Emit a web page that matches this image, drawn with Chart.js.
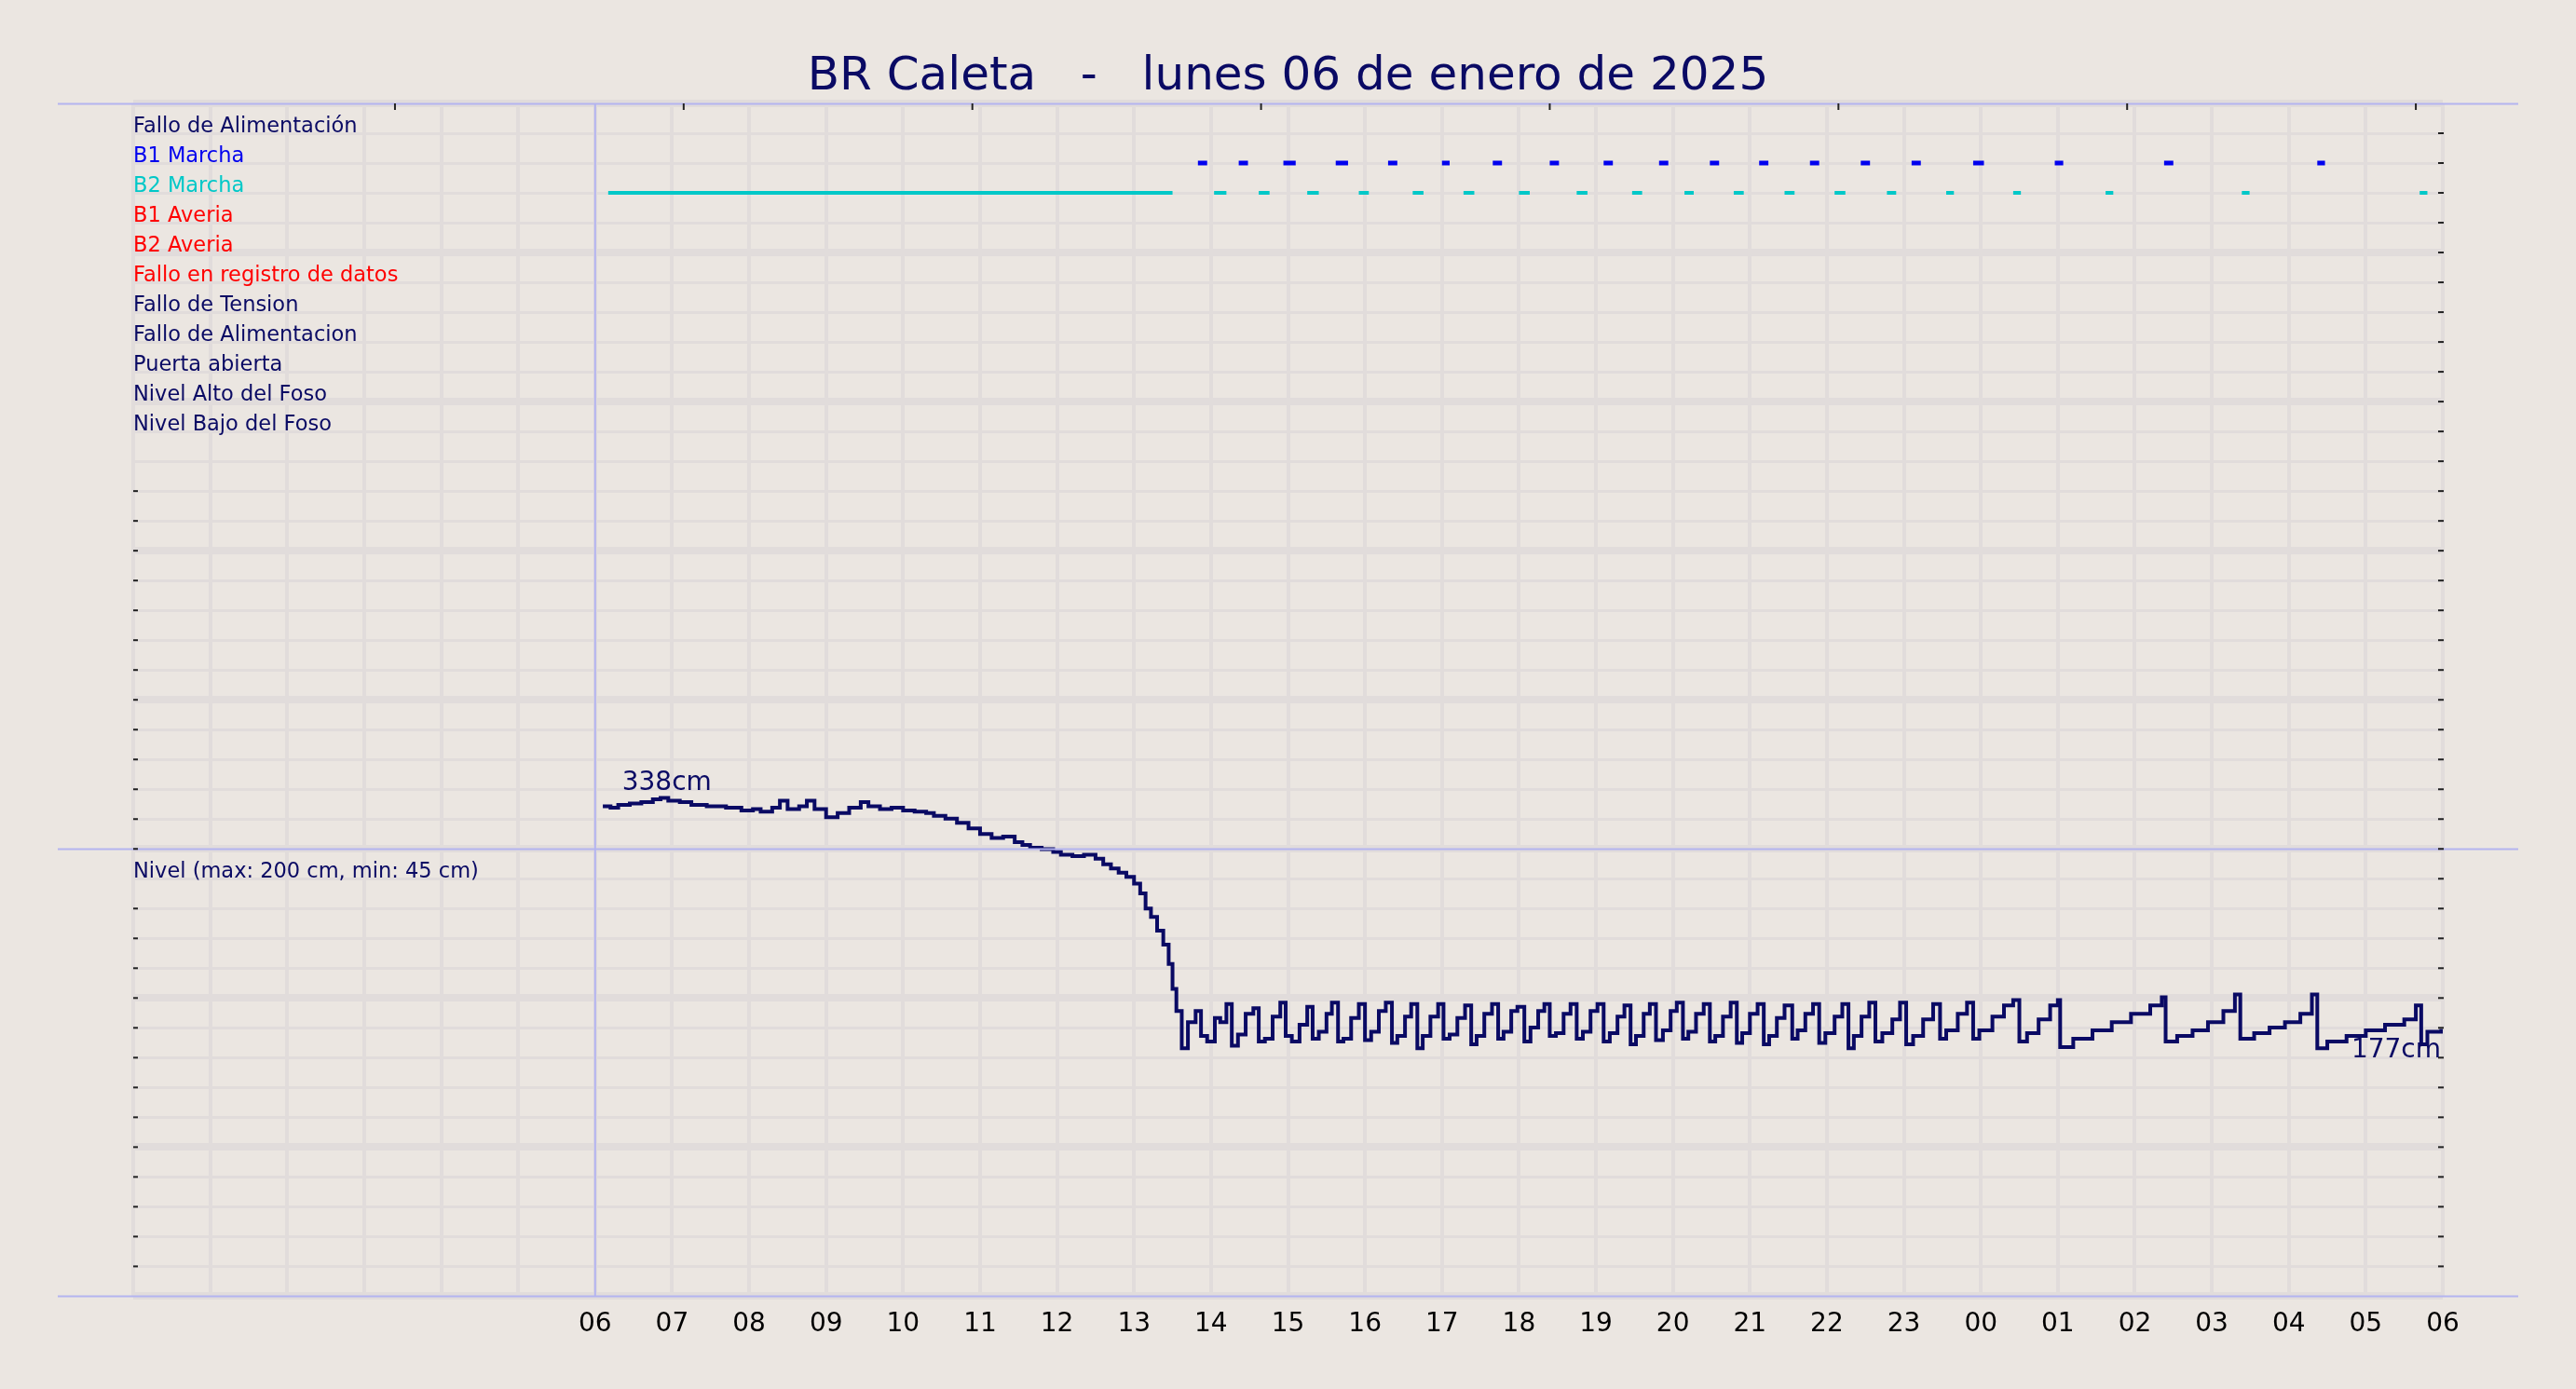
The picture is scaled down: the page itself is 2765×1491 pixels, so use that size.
<!DOCTYPE html>
<html><head><meta charset="utf-8">
<script src="https://cdn.jsdelivr.net/npm/chart.js@4/dist/chart.umd.min.js"></script>
<style>html,body{margin:0;padding:0;background:#ebe6e1;}#wrap{width:2765px;height:1491px;}</style>
</head><body><div id="wrap"><canvas id="c" width="2765" height="1491"></canvas></div>
<script>
const titleText = "BR Caleta   -   lunes 06 de enero de 2025";
const rowLabels = ["Fallo de Alimentación","B1 Marcha","B2 Marcha","B1 Averia","B2 Averia","Fallo en registro de datos","Fallo de Tension","Fallo de Alimentacion","Puerta abierta","Nivel Alto del Foso","Nivel Bajo del Foso"];
const rowColors = ["#0a0a64","#0000ee","#00c8c8","#ff0000","#ff0000","#ff0000","#0a0a64","#0a0a64","#0a0a64","#0a0a64","#0a0a64"];
const levelLabel = "Nivel (max: 200 cm, min: 45 cm)";
const hourLabels = ["06","07","08","09","10","11","12","13","14","15","16","17","18","19","20","21","22","23","00","01","02","03","04","05","06"];
// hours since 06:00
const b1Runs = [[7.83,7.95],[8.36,8.48],[8.94,9.1],[9.62,9.78],[10.3,10.42],[11.0,11.1],[11.66,11.78],[12.4,12.52],[13.1,13.22],[13.82,13.94],[14.48,14.6],[15.12,15.24],[15.78,15.9],[16.44,16.56],[17.1,17.22],[17.9,18.04],[18.96,19.07],[20.38,20.5],[22.37,22.47]];
const b2Runs = [[0.17,7.5],[8.04,8.2],[8.62,8.76],[9.25,9.4],[9.92,10.05],[10.62,10.76],[11.28,11.42],[12.0,12.14],[12.75,12.89],[13.47,13.6],[14.15,14.27],[14.79,14.92],[15.45,15.58],[16.1,16.24],[16.78,16.9],[17.55,17.65],[18.42,18.52],[19.62,19.72],[21.39,21.49],[23.7,23.8]];
const levelTimes = [0.1,0.2,0.3,0.45,0.6,0.75,0.85,0.95,1.1,1.25,1.45,1.7,1.9,2.05,2.15,2.3,2.4,2.5,2.65,2.75,2.85,3.0,3.15,3.3,3.45,3.55,3.7,3.85,4.0,4.15,4.3,4.4,4.55,4.7,4.85,5.0,5.15,5.3,5.45,5.55,5.65,5.8,5.95,6.05,6.2,6.35,6.5,6.6,6.7,6.8,6.9,7.0,7.08,7.15,7.22,7.3,7.38,7.45,7.5,7.55,
7.62,7.7,7.8,7.87,7.95,8.05,8.12,8.2,8.27,8.35,8.45,8.55,8.62,8.7,8.8,8.9,8.97,9.05,9.15,9.25,9.32,9.4,9.5,9.57,9.65,9.72,9.82,9.92,10.0,10.08,10.18,10.27,10.35,10.42,10.52,10.6,10.68,10.75,10.85,10.95,11.02,11.1,11.2,11.3,11.38,11.45,11.55,11.65,11.73,11.8,11.9,11.98,12.07,12.15,12.25,12.33,12.4,12.48,12.58,12.67,12.75,12.83,12.93,13.02,13.1,13.18,13.28,13.37,13.45,13.52,13.62,13.7,13.78,13.87,13.97,14.05,14.13,14.2,14.3,14.4,14.48,14.55,14.65,14.75,14.83,14.9,15.0,15.1,15.18,15.25,15.35,15.45,15.55,15.62,15.72,15.82,15.9,15.98,16.1,16.2,16.28,16.35,16.45,16.55,16.63,16.72,16.85,16.95,17.03,17.12,17.25,17.38,17.47,17.55,17.7,17.82,17.9,17.98,18.15,18.3,18.42,18.5,18.6,18.75,18.9,19.0,19.03,19.2,19.45,19.7,19.95,20.2,20.35,20.4,20.55,20.75,20.95,21.15,21.3,21.37,21.55,21.75,21.95,22.15,22.3,22.37,22.5,22.75,23.0,23.25,23.5,23.65,23.72,23.8,23.98];
const levelValues = [338,337,339,340,341,343,344,342,341,339,338,337,335,336,334,337,342,336,338,342,336,330,333,337,341,338,336,337,335,334,333,331,329,326,322,318,315,316,312,310,308,307,305,303,302,303,300,296,293,290,287,282,275,264,258,248,238,224,206,190,
163,182,190,172,168,185,182,195,165,173,188,192,168,170,186,196,172,168,180,193,170,175,188,196,168,170,185,195,169,175,190,196,167,172,186,195,163,172,186,195,170,173,185,194,166,172,188,195,170,175,190,193,168,178,190,195,172,174,188,195,170,175,190,195,168,174,186,194,166,172,188,195,169,176,190,196,170,175,188,195,168,172,186,196,167,174,188,195,166,172,185,194,170,176,188,195,167,174,186,195,163,172,186,196,168,174,184,196,166,172,184,195,170,176,188,196,170,176,186,194,198,168,174,184,194,198,164,170,176,182,188,194,200,168,172,176,182,190,202,170,174,178,182,188,202,163,168,172,176,180,184,194,166,175,177];
const NAVY="#0a0a64", BG="#ebe6e1", GRID="#e1dcdb", FRAME="#b4b4f0";

function runs(r){const d=[];r.forEach(([a,b])=>{d.push({x:a,y:0},{x:b,y:0},{x:b+0.001,y:null});});return d;}
const rowV = i => 39 - i;
const b1Data = runs(b1Runs).map(p=>({x:p.x,y:p.y===null?null:rowV(1)}));
const b2Data = runs(b2Runs).map(p=>({x:p.x,y:p.y===null?null:rowV(2)}));
const levelData = levelTimes.map((t,i)=>({x:t,y:levelValues[i]}));

const deco = {
  id:'deco',
  beforeDraw(ch){const c=ch.ctx;c.save();c.fillStyle=BG;c.fillRect(0,0,ch.width,ch.height);c.restore();},
  afterDraw(ch){
    const c=ch.ctx,x=ch.scales.x,y=ch.scales.y,yl=ch.scales.yL,a=ch.chartArea;
    c.save();
    c.strokeStyle=FRAME;c.lineWidth=2;
    [40,15,0].forEach(v=>{const py=Math.round(y.getPixelForValue(v))+0.5;c.beginPath();c.moveTo(62,py);c.lineTo(2703,py);c.stroke();});
    const vx=x.getPixelForValue(0);c.beginPath();c.moveTo(vx,a.top);c.lineTo(vx,a.bottom);c.stroke();
    c.strokeStyle="#222";c.lineWidth=2;
    for(let v=1;v<40;v++){const py=y.getPixelForValue(v);c.beginPath();c.moveTo(a.right-5,py);c.lineTo(a.right+1,py);c.stroke();
      if(v<=27&&v!==14){c.beginPath();c.moveTo(a.left,py);c.lineTo(a.left+5,py);c.stroke();}}
    for(let h=-2.6;h<24;h+=3.75){const px=x.getPixelForValue(h);c.beginPath();c.moveTo(px,a.top);c.lineTo(px,a.top+7);c.stroke();}
    c.fillStyle=NAVY;c.font='50px "DejaVu Sans"';c.textAlign='center';c.textBaseline='middle';
    c.fillText(titleText,ch.width/2,83);
    c.font='22.5px "DejaVu Sans"';c.textAlign='left';c.textBaseline='alphabetic';
    rowLabels.forEach((l,i)=>{c.fillStyle=rowColors[i];c.fillText(l,a.left,y.getPixelForValue(rowV(i))-1);});
    c.fillStyle=NAVY;c.fillText(levelLabel,a.left,y.getPixelForValue(rowV(25))-1);
    c.font='28px "DejaVu Sans"';
    c.fillText(levelValues[0]+"cm",x.getPixelForValue(0.35),yl.getPixelForValue(levelValues[0])-17);
    c.textAlign='right';
    c.fillText(levelValues[levelValues.length-1]+"cm",a.right-2,yl.getPixelForValue(levelValues[levelValues.length-1])+30);
    c.restore();
  }
};

new Chart(document.getElementById('c'),{
  type:'line',
  data:{datasets:[
    {data:b1Data,borderColor:"#0000ee",borderWidth:5,pointRadius:0,spanGaps:false,yAxisID:'y'},
    {data:b2Data,borderColor:"#00c8c8",borderWidth:4,pointRadius:0,spanGaps:false,yAxisID:'y'},
    {data:levelData,borderColor:NAVY,borderWidth:4,pointRadius:0,stepped:'before',yAxisID:'yL'}
  ]},
  options:{
    responsive:false,animation:false,devicePixelRatio:1,
    layout:{padding:{left:143,right:143,top:111,bottom:38}},
    plugins:{legend:{display:false},title:{display:false},tooltip:{enabled:false}},
    scales:{
      x:{type:'linear',min:-6,max:24,border:{display:false},
         grid:{color:GRID,lineWidth:4,drawTicks:false},
         ticks:{stepSize:1,padding:14,color:"#000",font:{family:'DejaVu Sans',size:28},maxRotation:0,autoSkip:false,
           callback:v=>v>=0&&Number.isInteger(v)?hourLabels[v]:''}},
      y:{type:'linear',min:0,max:40,border:{display:false},
         grid:{color:GRID,lineWidth:c=>c.tick.value%5===0?8:3,drawTicks:false},
         ticks:{display:false,stepSize:1}},
      yL:{type:'linear',min:-16.1,max:845.9,display:false}
    }
  },
  plugins:[deco]
});
</script></body></html>
